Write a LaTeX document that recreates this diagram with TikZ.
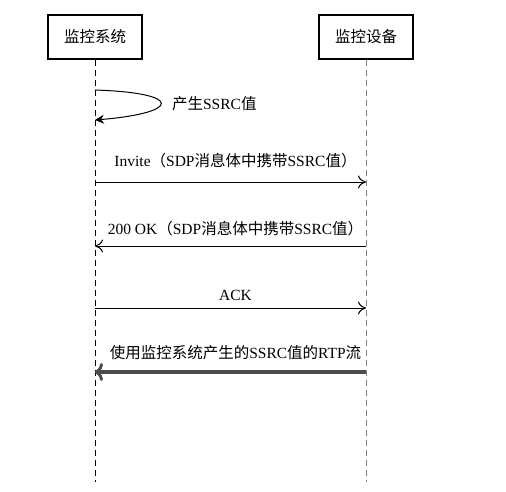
\documentclass[tikz,border=0pt]{standalone}
\usepackage{fontspec}
\setmainfont{Liberation Serif}
\newfontfamily\cjk{Noto Sans CJK SC}
\usetikzlibrary{arrows.meta}

\begin{document}
\begin{tikzpicture}[x=1pt,y=-1pt,
  actor/.style={draw,line width=1.1pt,minimum width=94pt,minimum height=44pt,font=\cjk\fontsize{15.5}{15.5}\selectfont},
  life/.style={line width=0.8pt,dash pattern=on 6pt off 4pt},
  msg/.style={line width=0.9pt,-{To[length=8pt,width=13pt,line width=1pt]}},
  lbl/.style={font=\fontsize{15.5}{15.5}\selectfont,inner sep=0pt,xshift=5pt}]
\useasboundingbox (0,0) rectangle (506,492);
\node[actor] (sys) at (95,37) {监控系统};
\node[actor] (dev) at (366,37) {监控设备};
\coordinate (sysEnd) at (95,482);
\coordinate (devEnd) at (366,482);
\draw[life] (sys.south) -- (sysEnd);
\draw[life,gray] (dev.south) -- (devEnd);
\coordinate (g1) at (95,90);
\coordinate (g2) at (95,120);
\draw[-{Stealth[length=9pt,width=9pt]},line width=1pt] (g1) .. controls (185,93) and (180,113) .. node[right=6pt,lbl] {{\cjk 产生}SSRC{\cjk 值}} (g2);
\coordinate (a1) at (95,182);
\coordinate (b1) at (366,182);
\draw[msg] (a1) -- node[above=14pt,lbl] {Invite{\cjk （}SDP{\cjk 消息体中携带}SSRC{\cjk 值）}} (b1);
\coordinate (a2) at (95,246);
\coordinate (b2) at (366,246);
\draw[msg] (b2) -- node[above=10pt,lbl] {200 OK{\cjk （}SDP{\cjk 消息体中携带}SSRC{\cjk 值）}} (a2);
\coordinate (a3) at (95,308);
\coordinate (b3) at (366,308);
\draw[msg] (a3) -- node[above=7pt,lbl] {ACK} (b3);
\coordinate (a4) at (95,372);
\coordinate (b4) at (366,372);
\draw[-{To[length=8pt,width=18pt,line width=3pt]},line width=4pt,black!70] (b4) -- node[above=10pt,lbl,black] {{\cjk 使用监控系统产生的}SSRC{\cjk 值的}RTP{\cjk 流}} (a4);
\end{tikzpicture}
\end{document}
